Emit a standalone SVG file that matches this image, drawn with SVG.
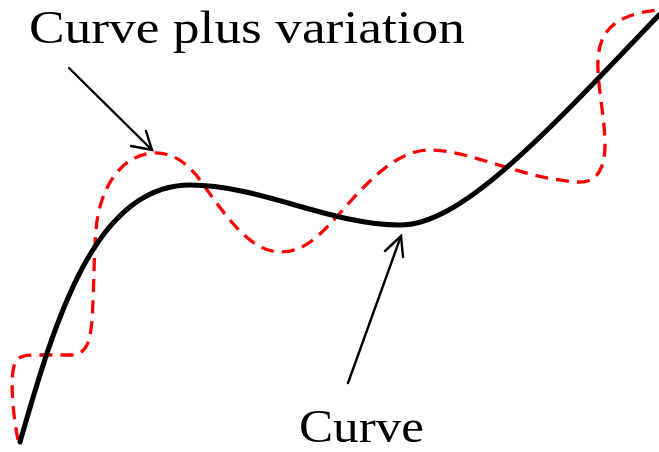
<svg xmlns="http://www.w3.org/2000/svg" width="659" height="452" viewBox="0 0 659 452">
<style>
.lbl{font-family:"Liberation Serif","DejaVu Serif",serif;font-size:47px;fill:#000}
.curve{fill:none;stroke:#000;stroke-width:5;stroke-linecap:round}
.var{fill:none;stroke:#ff0000;stroke-width:3.3;stroke-dasharray:13 8}
.arr{fill:none;stroke:#000;stroke-width:2.4;stroke-linecap:round;stroke-linejoin:miter}
</style>
<rect width="659" height="452" fill="#fff"/>
<g id="variation">
<path class="var" d="M18,440 C12,410 10,375 15,363 C18,356 25,355 35,355 L70,355 C85,355 90,345 92,320 C94,290 94,250 96,230 C99,190 120,155 153,153 C170,152 185,160 200,180 C225,215 250,252 280,252 C305,252 320,235 340,213 C365,185 395,150 430,150 C470,150 520,178 577,182 C597,184 605,168 605,145 C605,120 599,95 598,70 C596,30 615,15 657,10"/>
</g>
<g id="curve">
<path class="curve" d="M20,442 C55,320 95,185 190,185 C260,185 330,225 400,225 C460,225 540,140 659,15"/>
</g>
<g id="label-variation">
<text class="lbl" x="29" y="43" textLength="436" lengthAdjust="spacingAndGlyphs">Curve plus variation</text>
</g>
<g id="label-curve">
<text class="lbl" x="299" y="442" style="font-size:46px" textLength="125" lengthAdjust="spacingAndGlyphs">Curve</text>
</g>
<g id="connectors">
<path class="arr" d="M69,68 L152,150"/>
<path class="arr" d="M131,146 L152,150 L146,131"/>
<path class="arr" d="M348,383 L401,236"/>
<path class="arr" d="M385,251 L401,236 L403,257"/>
</g>
</svg>
